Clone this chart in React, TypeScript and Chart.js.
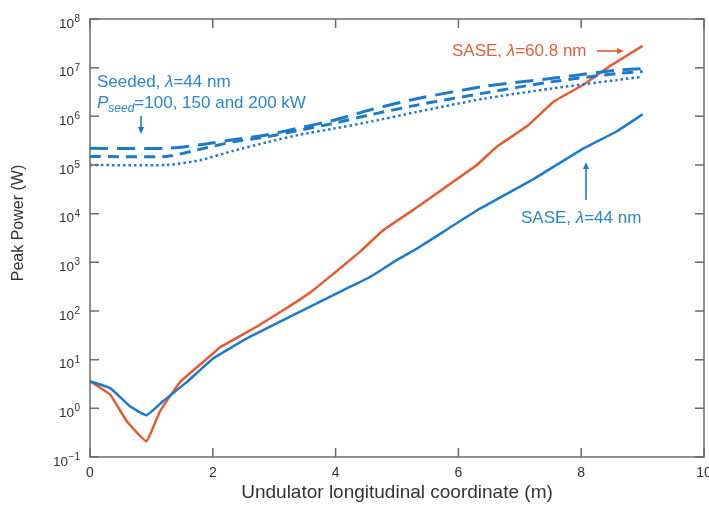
import React, { useEffect, useRef } from 'react';
import { Chart, registerables } from 'chart.js';
Chart.register(...registerables);

const FONT = '"Liberation Sans", Arial, Helvetica, sans-serif';

// Axis ticks
const xTickValues = [0, 2, 4, 6, 8, 10];
const yDecades = [-1, 0, 1, 2, 3, 4, 5, 6, 7, 8];

// SASE, λ = 60.8 nm
const saseRedX = [0, 0.33, 0.6, 0.92, 1.14, 1.47, 1.96, 2.12, 2.72, 3.31, 3.64, 3.97, 4.4, 4.78, 5.38, 5.76, 6.3, 6.63, 7.12, 7.55, 8.04, 8.48, 9.0];
const saseRedY = [3.6, 1.9, 0.54, 0.21, 0.87, 3.5, 12, 18, 48, 140, 270, 590, 1660, 4600, 15000, 33000, 1.0e5, 2.4e5, 6.3e5, 2.0e6, 4.5e6, 1.1e7, 2.8e7];

// SASE, λ = 44 nm
const saseBlueX = [0, 0.33, 0.65, 0.92, 1.19, 1.58, 2.01, 2.55, 3.21, 3.75, 4.24, 4.56, 5.0, 5.32, 5.65, 6.36, 7.23, 8.04, 8.59, 9.0];
const saseBlueY = [3.6, 2.6, 1.1, 0.72, 1.4, 3.5, 10.7, 27, 71, 155, 316, 500, 1120, 1900, 3500, 12900, 52000, 2.2e5, 5.0e5, 1.1e6];

// Seeded, λ = 44 nm (P_seed = 200, 150, 100 kW)
const seededX = [0, 1.25, 1.79, 2.33, 2.89, 3.42, 3.97, 4.6, 5.32, 6.41, 7.5, 8.59, 9.0];
const seeded200Y = [2.2e5, 2.2e5, 2.6e5, 3.3e5, 4.2e5, 5.8e5, 8.3e5, 1.4e6, 2.3e6, 4.1e6, 6.0e6, 8.9e6, 9.6e6];
const seeded150Y = [1.5e5, 1.5e5, 2.1e5, 3.0e5, 3.8e5, 5.2e5, 7.2e5, 1.1e6, 1.7e6, 3.0e6, 5.1e6, 7.6e6, 8.3e6];
const seeded100Y = [1.0e5, 1.0e5, 1.25e5, 1.95e5, 2.95e5, 4.2e5, 5.6e5, 7.9e5, 1.23e6, 2.3e6, 3.7e6, 5.6e6, 6.5e6];

const BLUE = '#1c7acb';
const RED = '#e65a2f';
const TEXT_BLUE = '#2b84d2';
const TEXT_RED = '#e4603a';
const FRAME = '#6b6b6b';

const pts = (xs: number[], ys: number[]) => xs.map((x, i) => ({ x, y: ys[i] }));

type Part = { t: string; font: string; dy?: number };
function drawRich(ctx: CanvasRenderingContext2D, x: number, y: number, parts: Part[], color: string) {
  ctx.fillStyle = color;
  ctx.textAlign = 'left';
  ctx.textBaseline = 'alphabetic';
  let cx = x;
  for (const p of parts) {
    ctx.font = p.font;
    ctx.fillText(p.t, cx, y + (p.dy || 0));
    cx += ctx.measureText(p.t).width;
  }
}

function arrow(ctx: CanvasRenderingContext2D, x1: number, y1: number, x2: number, y2: number, color: string) {
  ctx.save();
  ctx.strokeStyle = color;
  ctx.fillStyle = color;
  ctx.lineWidth = 1.6;
  const ang = Math.atan2(y2 - y1, x2 - x1);
  const hl = 7, hw = 3;
  const bx = x2 - hl * Math.cos(ang), by = y2 - hl * Math.sin(ang);
  ctx.beginPath();
  ctx.moveTo(x1, y1);
  ctx.lineTo(bx, by);
  ctx.stroke();
  ctx.beginPath();
  ctx.moveTo(x2, y2);
  ctx.lineTo(bx + hw * Math.sin(ang), by - hw * Math.cos(ang));
  ctx.lineTo(bx - hw * Math.sin(ang), by + hw * Math.cos(ang));
  ctx.closePath();
  ctx.fill();
  ctx.restore();
}

const decorPlugin = {
  id: 'decor',
  afterDraw(chart: any) {
    const { ctx, chartArea: a, scales } = chart;
    const xs = scales.x, ys = scales.y;
    ctx.save();
    // frame
    ctx.strokeStyle = FRAME;
    ctx.lineWidth = 1.5;
    ctx.strokeRect(a.left, a.top, a.right - a.left, a.bottom - a.top);
    // inward ticks
    const tl = 9;
    ctx.beginPath();
    for (const v of xTickValues) {
      const px = xs.getPixelForValue(v);
      ctx.moveTo(px, a.bottom); ctx.lineTo(px, a.bottom - tl);
      ctx.moveTo(px, a.top); ctx.lineTo(px, a.top + tl);
    }
    for (const e of yDecades) {
      const py = ys.getPixelForValue(Math.pow(10, e));
      ctx.moveTo(a.left, py); ctx.lineTo(a.left + tl, py);
      ctx.moveTo(a.right, py); ctx.lineTo(a.right - tl, py);
    }
    ctx.stroke();

    // y tick labels 10^n
    ctx.fillStyle = '#333333';
    ctx.textBaseline = 'alphabetic';
    for (const e of yDecades) {
      const py = ys.getPixelForValue(Math.pow(10, e));
      const exp = e < 0 ? '\u2212' + Math.abs(e) : String(e);
      ctx.font = `10px ${FONT}`;
      const we = ctx.measureText(exp).width;
      const right = a.left - 10;
      ctx.textAlign = 'left';
      ctx.fillText(exp, right - we, py + 3);
      ctx.font = `13.5px ${FONT}`;
      ctx.textAlign = 'right';
      ctx.fillText('10', right - we - 0.5, py + 8.5);
    }

    // y title
    ctx.save();
    ctx.translate(19, 223);
    ctx.rotate(-Math.PI / 2);
    ctx.font = `16px ${FONT}`;
    ctx.textAlign = 'center';
    ctx.textBaseline = 'middle';
    ctx.fillStyle = '#333333';
    ctx.fillText('Peak Power (W)', 0, 0);
    ctx.restore();

    // annotations
    const f17 = `17px ${FONT}`;
    const f17i = `italic 17px ${FONT}`;
    const f12i = `italic 12px ${FONT}`;
    drawRich(ctx, 97, 87, [
      { t: 'Seeded, ', font: f17 },
      { t: '\u03bb', font: f17i },
      { t: '=44 nm', font: f17 },
    ], TEXT_BLUE);
    drawRich(ctx, 97, 108, [
      { t: 'P', font: f17i },
      { t: 'seed', font: f12i, dy: 4 },
      { t: '=100, 150 and 200 kW', font: f17 },
    ], TEXT_BLUE);
    arrow(ctx, 141, 116, 141, 134, BLUE);

    drawRich(ctx, 452, 56, [
      { t: 'SASE, ', font: f17 },
      { t: '\u03bb', font: f17i },
      { t: '=60.8 nm', font: f17 },
    ], TEXT_RED);
    arrow(ctx, 597, 51, 624, 51, RED);

    drawRich(ctx, 521, 223, [
      { t: 'SASE, ', font: f17 },
      { t: '\u03bb', font: f17i },
      { t: '=44 nm', font: f17 },
    ], TEXT_BLUE);
    arrow(ctx, 586, 200, 586, 162, BLUE);

    ctx.restore();
  },
};

export default function App() {
  const ref = useRef<HTMLCanvasElement | null>(null);
  useEffect(() => {
    if (!ref.current) return;
    const chart = new Chart(ref.current, {
      type: 'scatter',
      data: {
        datasets: [
          { label: 'Seeded 200 kW', data: pts(seededX, seeded200Y), showLine: true, borderColor: BLUE, borderWidth: 3, borderDash: [18, 9], pointRadius: 0, tension: 0.2, borderCapStyle: 'butt' },
          { label: 'Seeded 150 kW', data: pts(seededX, seeded150Y), showLine: true, borderColor: BLUE, borderWidth: 3, borderDash: [11, 7], pointRadius: 0, tension: 0.2, borderCapStyle: 'butt' },
          { label: 'Seeded 100 kW', data: pts(seededX, seeded100Y), showLine: true, borderColor: BLUE, borderWidth: 2.5, borderDash: [2.5, 3], pointRadius: 0, tension: 0.2, borderCapStyle: 'butt' },
          { label: 'SASE 44 nm', data: pts(saseBlueX, saseBlueY), showLine: true, borderColor: BLUE, borderWidth: 2.5, pointRadius: 0, tension: 0.1 },
          { label: 'SASE 60.8 nm', data: pts(saseRedX, saseRedY), showLine: true, borderColor: RED, borderWidth: 2.5, pointRadius: 0, tension: 0.1 },
        ],
      } as any,
      options: {
        animation: false,
        responsive: false,
        events: [],
        layout: { padding: { top: 19, right: 5, left: 0, bottom: 0 } },
        plugins: { legend: { display: false }, tooltip: { enabled: false } },
        scales: {
          x: {
            type: 'linear',
            min: 0,
            max: 10,
            afterFit: (s: any) => { s.height = 48; s.paddingLeft = 0; s.paddingRight = 0; },
            grid: { display: false, drawTicks: false },
            border: { display: false },
            ticks: { stepSize: 2, padding: 8, color: '#333333', font: { family: FONT, size: 14 } },
            title: { display: true, text: 'Undulator longitudinal coordinate (m)', color: '#333333', font: { family: FONT, size: 19 }, padding: { top: 0, bottom: 1 } },
          },
          y: {
            type: 'logarithmic',
            min: 0.1,
            max: 1e8,
            afterFit: (s: any) => { s.width = 90; s.paddingTop = 0; s.paddingBottom = 0; },
            grid: { display: false, drawTicks: false },
            border: { display: false },
            ticks: { display: false },
          },
        },
      } as any,
      plugins: [decorPlugin],
    });
    return () => chart.destroy();
  }, []);
  return (
    <div style={{ position: 'fixed', left: 0, top: 0, width: 709, height: 505, background: '#fff' }}>
      <canvas ref={ref} width={709} height={505} style={{ display: 'block' }} />
    </div>
  );
}
